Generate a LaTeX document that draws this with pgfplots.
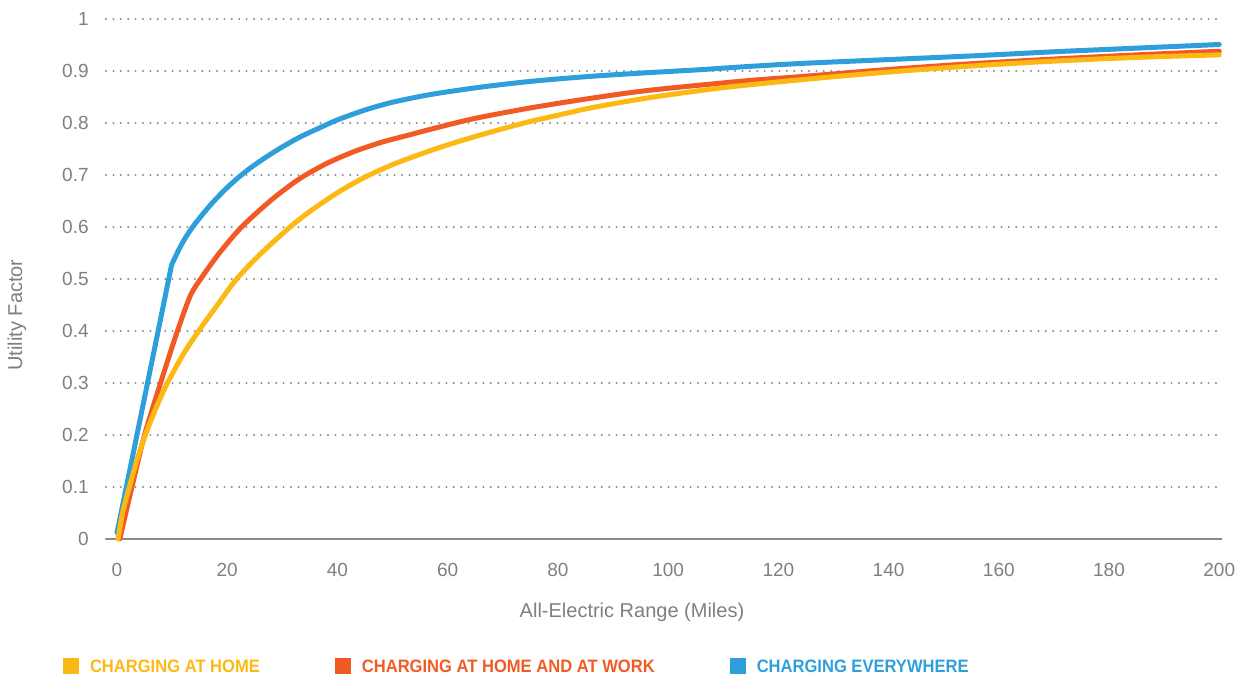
\documentclass[border=0pt]{standalone}
\usepackage{pgfplots}
\pgfplotsset{compat=1.18}
\usepackage{fontspec}
\setmainfont{Liberation Sans}
\newfontfamily\condfont[FakeStretch=0.92]{Liberation Sans}
\definecolor{cyel}{HTML}{FDB913}
\definecolor{cred}{HTML}{F15A24}
\definecolor{cblu}{HTML}{2E9FDB}
\definecolor{ctxt}{HTML}{7F7F7F}
\definecolor{cgrid}{HTML}{8A8A8A}
\begin{document}
\begin{tikzpicture}
\begin{axis}[
  scale only axis,
  width=558pt, height=260pt,
  at={(53pt,69pt)}, anchor=south west,
  xmin=-2, xmax=200.5, ymin=0, ymax=1,
  clip=false,
  axis lines*=left,
  x axis line style={draw=cgrid, line width=1.25pt},
  y axis line style={draw=none},
  major tick length=0pt,
  xtick={0,20,...,200},
  ytick={0,0.1,0.2,0.3,0.4,0.5,0.6,0.7,0.8,0.9,1},
  /pgf/number format/assume math mode=true,
  /pgf/number format/fixed,
  ticklabel style={font=\fontsize{9.5pt}{11pt}\selectfont, text=ctxt},
  xticklabel style={anchor=center, inner sep=0pt, yshift=-15.5pt},
  yticklabel style={anchor=east, inner sep=0pt, xshift=-8.5pt},
  ymajorgrids,
  grid style={draw=cgrid, line width=1.1pt, line cap=round, dash pattern=on 0pt off 3.7pt},
  xlabel={All-Electric Range (Miles)},
  ylabel={Utility Factor},
  label style={font=\fontsize{10pt}{12pt}\selectfont, text=ctxt},
  xlabel style={at={(0.4713,-0.1415)}, anchor=center, inner sep=0pt},
  ylabel style={at={(-0.0797,0.431)}, anchor=center, inner sep=0pt},
  legend columns=3,
  reverse legend,
  legend style={at={(-0.0385,-0.246)}, anchor=west, draw=none, fill=none,
    inner sep=0pt, outer sep=0pt,
    nodes={inner sep=0pt, font=\condfont\bfseries\fontsize{9pt}{10pt}\selectfont},
    /tikz/every odd column/.append style={column sep=5.5pt},
    /tikz/every even column/.append style={column sep=37.5pt}},
  legend image code/.code={\fill[#1, draw=none] (0pt,-3pt) rectangle (8pt,5pt);},
  every axis plot/.append style={line width=2.5pt, line cap=round, line join=round},
]
\addplot[cblu, forget plot] coordinates {(0,0.012) (9.9,0.527)};
\addplot[cblu, smooth, tension=0.45] coordinates {
(9.9,0.527) (11,0.552) (12,0.572) (13,0.589) (14,0.604) (15.5,0.624) (17,0.643)
(18.5,0.660) (20,0.676) (22,0.695) (24,0.712) (26,0.727) (28,0.741) (30,0.754)
(33,0.772) (36,0.787) (40,0.806) (45,0.825) (50,0.840)
(57,0.855) (66,0.869) (75,0.880) (85,0.889) (95,0.896) (105,0.902) (115,0.909)
(125,0.915) (140,0.922) (155,0.929) (170,0.937) (185,0.944) (200,0.951)};
\addlegendentry{\textcolor{cblu}{CHARGING EVERYWHERE}}
\addplot[cred, smooth, tension=0.45] coordinates {
(0.5,0) (2.7,0.1) (5,0.2) (7.9,0.3) (10.8,0.395) (13.3,0.468) (15.3,0.502)
(18.5,0.549) (22.6,0.600) (28,0.652) (33,0.692) (38,0.722) (43,0.745)
(48,0.763) (53,0.777) (58,0.791) (65,0.809) (75,0.829) (85,0.846) (95,0.861)
(105,0.872) (115,0.882) (125,0.890) (140,0.903) (155,0.914) (170,0.923)
(185,0.931) (200,0.938)};
\addlegendentry{\textcolor{cred}{CHARGING AT HOME AND AT WORK}}
\addplot[cyel, smooth, tension=0.45] coordinates {
(0.2,0) (1,0.05) (2.5,0.11) (4,0.165) (5.5,0.21) (7,0.25) (9,0.297) (12,0.355)
(15,0.403) (18,0.447) (21.7,0.5) (26,0.548) (31.4,0.6) (35,0.630) (40,0.666)
(45,0.696) (50,0.720) (55,0.740) (60,0.758) (65,0.774) (70,0.789) (75,0.803)
(80,0.815) (85,0.827) (90,0.837) (95,0.846) (100,0.854) (110,0.868)
(120,0.879) (130,0.889) (140,0.898) (150,0.906) (160,0.913) (170,0.919)
(180,0.924) (190,0.928) (200,0.931)};
\addlegendentry{\textcolor{cyel}{CHARGING AT HOME}}
\end{axis}
\pgfresetboundingbox
\path[use as bounding box] (0,0) rectangle (621pt,338.5pt);
\end{tikzpicture}
\end{document}
